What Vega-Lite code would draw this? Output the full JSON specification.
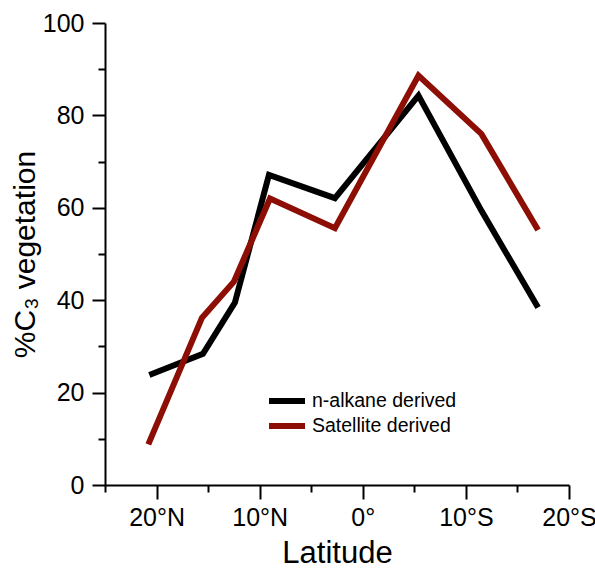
{
  "$schema": "https://vega.github.io/schema/vega-lite/v6.json",
  "width": 464,
  "height": 462,
  "autosize": {"type": "none"},
  "padding": {"left": 105, "top": 23, "right": 26, "bottom": 96},
  "background": "white",
  "config": {
    "view": {"stroke": null},
    "font": "Liberation Sans",
    "axis": {
      "grid": false,
      "domainColor": "#000",
      "domainWidth": 2,
      "tickColor": "#000",
      "tickWidth": 2,
      "labelColor": "#000",
      "titleColor": "#000",
      "labelFont": "Liberation Sans",
      "titleFont": "Liberation Sans",
      "titleFontWeight": "normal"
    }
  },
  "data": {
    "values": [
      {"series": "n-alkane derived", "lat": 20.7, "c3": 23.8},
      {"series": "n-alkane derived", "lat": 15.5, "c3": 28.4},
      {"series": "n-alkane derived", "lat": 12.4, "c3": 39.5},
      {"series": "n-alkane derived", "lat": 9.1, "c3": 67.1},
      {"series": "n-alkane derived", "lat": 2.7, "c3": 62.1},
      {"series": "n-alkane derived", "lat": -5.4, "c3": 84.3},
      {"series": "n-alkane derived", "lat": -11.5, "c3": 59.4},
      {"series": "n-alkane derived", "lat": -17.0, "c3": 38.4},
      {"series": "Satellite derived", "lat": 20.8, "c3": 8.8},
      {"series": "Satellite derived", "lat": 15.6, "c3": 36.2},
      {"series": "Satellite derived", "lat": 12.5, "c3": 44.0},
      {"series": "Satellite derived", "lat": 9.0, "c3": 62.0},
      {"series": "Satellite derived", "lat": 2.7, "c3": 55.6},
      {"series": "Satellite derived", "lat": -5.4, "c3": 88.6},
      {"series": "Satellite derived", "lat": -11.5, "c3": 76.0},
      {"series": "Satellite derived", "lat": -17.0, "c3": 55.2}
    ]
  },
  "resolve": {"axis": {"x": "independent", "y": "independent"}},
  "layer": [
    {
      "mark": {"type": "line", "strokeWidth": 6, "strokeJoin": "miter", "strokeCap": "butt"},
      "encoding": {
        "x": {
          "field": "lat", "type": "quantitative",
          "scale": {"domain": [25, -20], "nice": false, "zero": false},
          "axis": {
            "orient": "bottom",
            "title": "Latitude",
            "titleFontSize": 31,
            "titlePadding": 8,
            "values": [20, 10, 0, -10, -20],
            "tickSize": 14,
            "labelFontSize": 25,
            "labelPadding": 6,
            "labelFlush": false,
            "labelExpr": "datum.value > 0 ? datum.value + '°N' : (datum.value < 0 ? (-datum.value) + '°S' : '0°')"
          }
        },
        "y": {
          "field": "c3", "type": "quantitative",
          "scale": {"domain": [0, 100], "nice": false},
          "axis": {
            "orient": "left",
            "title": "%C₃ vegetation",
            "titleFontSize": 30,
            "titlePadding": 2,
            "values": [0, 20, 40, 60, 80, 100],
            "tickSize": 13,
            "labelFontSize": 25,
            "labelPadding": 8,
            "labelFlush": false
          }
        },
        "color": {
          "field": "series", "type": "nominal",
          "scale": {"domain": ["n-alkane derived", "Satellite derived"], "range": ["#000000", "#8c0e04"]},
          "legend": {
            "title": null,
            "orient": "none",
            "legendX": 169,
            "legendY": 365,
            "symbolType": "M-1.8,0H1.8",
            "symbolSize": 400,
            "symbolStrokeWidth": 6,
            "labelFontSize": 19.5,
            "labelColor": "#000",
            "labelOffset": 12,
            "rowPadding": -2
          }
        }
      }
    },
    {
      "mark": {"type": "line", "opacity": 0},
      "encoding": {
        "x": {
          "field": "lat", "type": "quantitative",
          "axis": {
            "orient": "bottom",
            "title": null,
            "values": [25, 15, 5, -5, -15],
            "tickSize": 7,
            "labels": false,
            "domain": false
          }
        },
        "y": {
          "field": "c3", "type": "quantitative",
          "axis": {
            "orient": "left",
            "title": null,
            "values": [10, 30, 50, 70, 90],
            "tickSize": 7,
            "labels": false,
            "domain": false
          }
        },
        "detail": {"field": "series"}
      }
    }
  ]
}
